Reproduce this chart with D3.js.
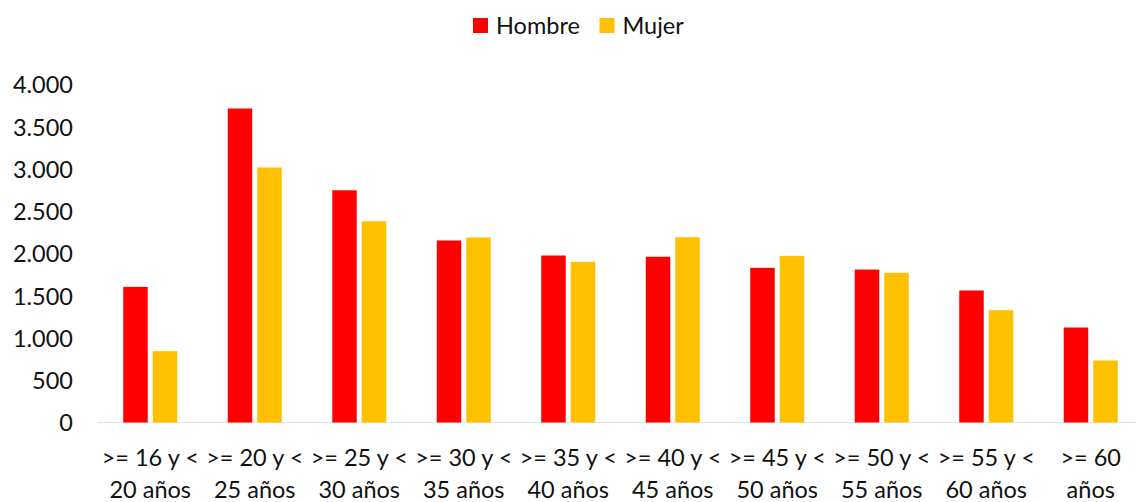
<!DOCTYPE html>
<html>
<head>
<meta charset="utf-8">
<script src="https://cdn.jsdelivr.net/npm/d3@7"></script>
<style>
  body { margin: 0; background: #fff; }
  text { font-family: Lato, "Open Sans", sans-serif; fill: #111; }
</style>
</head>
<body>
<svg width="1136" height="502"></svg>
<script>
// age groups, two lines per label
var line1 = [">= 16 y <", ">= 20 y <", ">= 25 y <", ">= 30 y <", ">= 35 y <",
             ">= 40 y <", ">= 45 y <", ">= 50 y <", ">= 55 y <", ">= 60"];
var line2 = ["20 años", "25 años", "30 años", "35 años", "40 años",
             "45 años", "50 años", "55 años", "60 años", "años"];

var series = ["Hombre", "Mujer"];
var hombre = [1605, 3716, 2748, 2154, 1976, 1961, 1830, 1810, 1562, 1124];
var mujer  = [844, 3018, 2382, 2189, 1901, 2193, 1972, 1771, 1329, 734];
var yTicks = [0, 500, 1000, 1500, 2000, 2500, 3000, 3500, 4000];

var color = ["#FF0000", "#FFC000"];

var svg = d3.select("svg"),
    width = +svg.attr("width"),
    height = +svg.attr("height");

var locale = d3.formatLocale({decimal: ",", thousands: ".", grouping: [3], currency: ["", " €"]});
var fmt = locale.format(",");

var fs = 23.5;

var x = d3.scaleBand()
    .domain(d3.range(line1.length))
    .range([98, 1143]);

var x1 = d3.scaleBand()
    .domain(series)
    .range([-27, 27])
    .paddingInner(0.17);

var y = d3.scaleLinear()
    .domain([0, 4000])
    .range([422.5, 84.5]);

// y axis labels
var yAxis = svg.append("g")
    .attr("transform", "translate(73,0)")
    .call(d3.axisLeft(y).tickValues(yTicks).tickFormat(fmt).tickSize(0).tickPadding(0));
yAxis.select(".domain").remove();
yAxis.selectAll("text")
    .attr("font-size", fs)
    .attr("dy", "0.36em")
    .style("font-family", "Lato, sans-serif");

// baseline
svg.append("line")
    .attr("x1", 98).attr("x2", width)
    .attr("y1", y(0)).attr("y2", y(0))
    .attr("stroke", "#e3e3e3")
    .attr("stroke-width", 1.2);

// bars
var data = line1.map(function(d, i) { return [hombre[i], mujer[i]]; });

var groups = svg.append("g")
    .selectAll("g")
    .data(data)
    .enter().append("g")
      .attr("transform", function(d, i) { return "translate(" + (x(i) + x.bandwidth() / 2) + ",0)"; });

groups.selectAll("rect")
    .data(function(d) { return d; })
    .enter().append("rect")
      .attr("x", function(d, j) { return x1(series[j]); })
      .attr("width", x1.bandwidth())
      .attr("y", function(d) { return y(d); })
      .attr("height", function(d) { return y(0) - y(d); })
      .attr("fill", function(d, j) { return color[j]; });

// x labels
var xl = svg.append("g")
    .selectAll("text")
    .data(line1)
    .enter().append("text")
      .attr("text-anchor", "middle")
      .attr("font-size", fs)
      .attr("x", function(d, i) { return x(i) + x.bandwidth() / 2; });

xl.append("tspan")
    .attr("y", 466)
    .text(function(d) { return d; });
xl.append("tspan")
    .attr("x", function(d, i) { return x(i) + x.bandwidth() / 2; })
    .attr("y", 498)
    .text(function(d, i) { return line2[i]; });

// legend
var lx = [473, 599.5];
var legend = svg.append("g")
    .selectAll("g")
    .data(series)
    .enter().append("g")
      .attr("transform", function(d, i) { return "translate(" + lx[i] + ",18)"; });

legend.append("rect")
    .attr("width", 15).attr("height", 15)
    .attr("fill", function(d, i) { return color[i]; });

legend.append("text")
    .attr("x", 23)
    .attr("y", 7.5)
    .attr("dy", "0.36em")
    .attr("font-size", fs)
    .text(function(d) { return d; });
</script>
</body>
</html>
